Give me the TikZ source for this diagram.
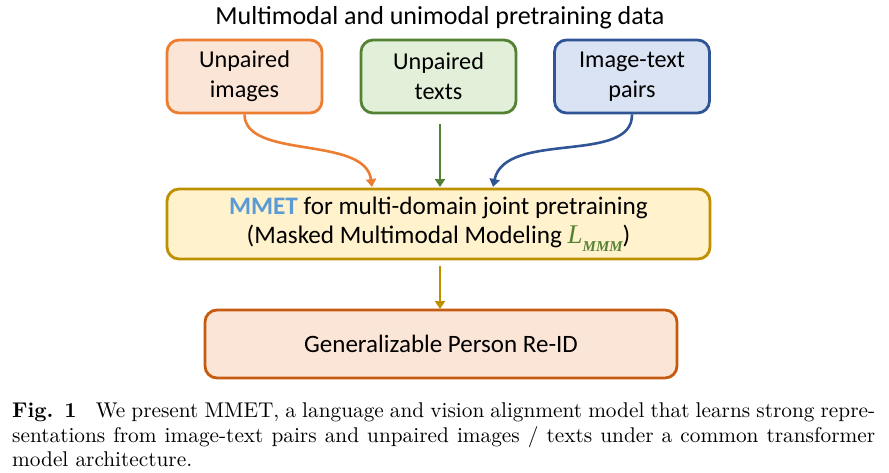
\documentclass[tikz,border=0pt]{standalone}
\usepackage{fontspec}
\usetikzlibrary{arrows.meta}
\newfontfamily\carlitofont{Carlito}
\newfontfamily\timesfont{Liberation Serif}
\newfontfamily\capfont{lmroman10-regular}[Extension=.otf,BoldFont=lmroman10-bold]
\definecolor{orB}{HTML}{ED7D31}
\definecolor{orF}{HTML}{FBE5D6}
\definecolor{grB}{HTML}{548235}
\definecolor{grF}{HTML}{E2F0D9}
\definecolor{blB}{HTML}{2F5597}
\definecolor{blF}{HTML}{DAE3F3}
\definecolor{gdB}{HTML}{BF9000}
\definecolor{gdF}{HTML}{FFF2CC}
\definecolor{rdB}{HTML}{C55A11}
\definecolor{mmet}{HTML}{5B9BD5}
\begin{document}
\begin{tikzpicture}[x=1pt,y=-1pt,
  box/.style={draw,line width=2.8pt,rounded corners=12pt,align=center,
    font=\carlitofont\fontsize{24.2}{30}\selectfont,inner sep=0pt},
  arr/.style={line width=2.6pt,-{Triangle[width=10pt,length=8pt]}}]
\useasboundingbox (0,0) rectangle (889,472);
\node[font=\carlitofont\fontsize{26}{30}\selectfont] (title) at (440,18) {Multimodal and unimodal pretraining data};
\node[box,draw=orB,fill=orF,minimum width=155pt,minimum height=73pt] (b1) at (244.5,76.5) {Unpaired\\images};
\node[box,draw=grB,fill=grF,minimum width=155pt,minimum height=73pt] (b2) at (438.5,76.5) {Unpaired\\texts};
\node[box,draw=blB,fill=blF,minimum width=155pt,minimum height=73pt] (b3) at (632,76.5) {Image-text\\pairs};
\node[box,draw=gdB,fill=gdF,minimum width=543pt,minimum height=70pt,font=\carlitofont\fontsize{25.2}{29.5}\selectfont] (mid) at (438.5,224)
  {\textcolor{mmet}{\textbf{MMET}} for multi-domain joint pretraining\\(Masked Multimodal Modeling \textcolor{grB}{\timesfont\fontsize{27}{29}\selectfont\itshape L\raisebox{-0.28em}{\fontsize{15}{15}\selectfont\bfseries\itshape MMM}})};
\node[box,draw=rdB,fill=orF,minimum width=472pt,minimum height=68pt,font=\carlitofont\fontsize{25}{30}\selectfont] (bot) at (441,344) {Generalizable Person Re-ID};
\coordinate (e1) at (372,187);
\coordinate (s2) at (440,124);
\coordinate (e2) at (440,187);
\coordinate (e3) at (493,187);
\coordinate (s4) at (440,266);
\coordinate (e4) at (440,309);
\draw[arr,color=orB] (b1.south) .. controls (245,160) and (365,135) .. (e1);
\draw[arr,color=grB] (s2) -- (e2);
\draw[arr,color=blB] (b3.south) .. controls (633,165) and (505,130) .. (e3);
\draw[arr,color=gdB] (s4) -- (e4);
\node[anchor=north west,inner sep=0pt,text width=863pt,font=\capfont\fontsize{21.3}{24.5}\selectfont,align=justify] (cap) at (12,403)
  {\hbox{\textbf{Fig. 1}}\hspace{0.9em}We present MMET, a language and vision alignment model that learns strong repre-\linebreak sentations from image-text pairs and unpaired images / texts under a common transformer\linebreak model architecture.};
\end{tikzpicture}
\end{document}
